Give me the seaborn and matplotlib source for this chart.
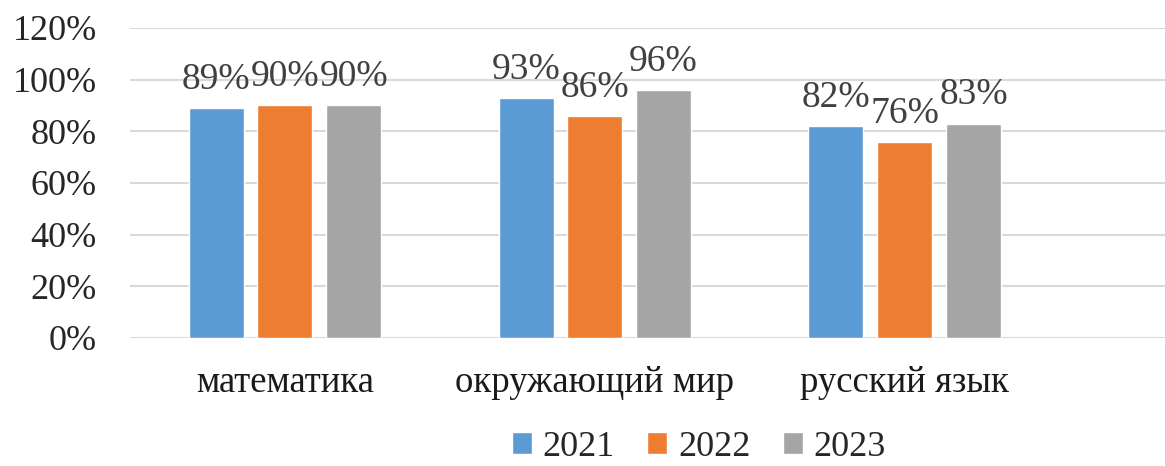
import pandas as pd
import matplotlib.pyplot as plt
import seaborn as sns

# subjects and yearly results (share of students, %)
subjects = ['математика', 'окружающий мир', 'русский язык']
years = ['2021', '2022', '2023']
vals_2021 = [89, 93, 82]
vals_2022 = [90, 86, 76]
vals_2023 = [90, 96, 83]
colors = ['#5B9BD5', '#ED7D31', '#A5A5A5']

rows = []
for yr, vals in zip(years, [vals_2021, vals_2022, vals_2023]):
    for subj, v in zip(subjects, vals):
        rows.append({'subject': subj, 'year': yr, 'value': v / 100})
df = pd.DataFrame(rows)

sns.set_style('white')
plt.rcParams['font.family'] = ['Liberation Serif', 'DejaVu Serif']

fig = plt.figure(figsize=(11.65, 4.66), dpi=100)
ax = fig.add_axes([0.1116, 0.2747, 0.8884, 0.6653])

sns.barplot(data=df, x='subject', y='value', hue='year', hue_order=years,
            palette=colors, width=0.666, gap=0.2, saturation=1,
            ax=ax, legend=True)

for c in ax.containers:
    ax.bar_label(c, labels=[f'{int(round(b.get_height() * 100))}%' for b in c],
                 padding=8, fontsize=27, color='#404040')

ax.set_ylim(0, 1.2)
ax.set_yticks([0, 0.2, 0.4, 0.6, 0.8, 1.0, 1.2])
ax.set_yticklabels([f'{int(t * 100)}%' for t in ax.get_yticks()])
ax.set_xlim(-0.5, 2.84)
ax.yaxis.grid(True, color='#D9D9D9', linewidth=1.5)
ax.set_axisbelow(True)
for s in ax.spines.values():
    s.set_visible(False)
ax.tick_params(axis='y', length=0, pad=24, labelsize=26, labelcolor='#262626')
ax.tick_params(axis='x', length=0, pad=20, labelsize=26.5, labelcolor='#1a1a1a')
ax.set_xlabel('')
ax.set_ylabel('')

handles, labels = ax.get_legend_handles_labels()
ax.legend_.remove()
fig.legend(handles, labels, loc='center', bbox_to_anchor=(0.6, 0.04),
           ncol=3, frameon=False, fontsize=26, handlelength=0.55,
           handleheight=0.55, handletextpad=0.3, columnspacing=0.9,
           labelcolor='#262626')

fig.savefig('out.png', dpi=100)
